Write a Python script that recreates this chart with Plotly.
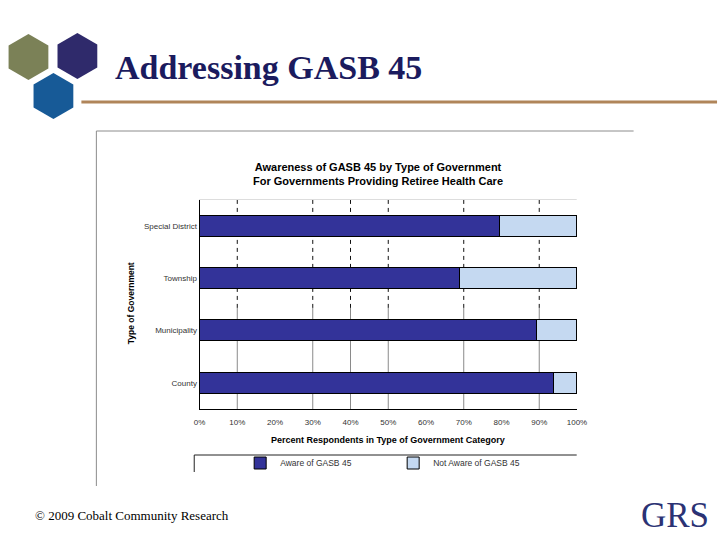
import math
import plotly.graph_objects as go

categories = ["County", "Municipality", "Township", "Special District"]
aware = [93.8, 89.4, 68.8, 79.6]
not_aware = [6.2, 10.6, 31.2, 20.4]
x_ticks = [0, 10, 20, 30, 40, 50, 60, 70, 80, 90, 100]
x_tick_labels = ["0%", "10%", "20%", "30%", "40%", "50%", "60%", "70%", "80%", "90%", "100%"]
grid_ticks = [10, 30, 40, 50, 70, 90]

W, H = 720, 540
# horizontal calibration of target pixel -> layout pixel
def hx(x):
    return (x - 5.5) / (705 / 720)
def px(x):
    return hx(x) / W
def py(y):
    return 1 - y / H

fig = go.Figure()
fig.add_trace(go.Bar(y=categories, x=aware, orientation="h", name="Aware of GASB 45",
                     marker=dict(color="#333399", line=dict(color="#000000", width=1)), width=0.4))
fig.add_trace(go.Bar(y=categories, x=not_aware, orientation="h", name="Not Aware of GASB 45",
                     marker=dict(color="#c5d9f1", line=dict(color="#000000", width=1)), width=0.4))

shapes = []
for g in grid_ticks:
    shapes.append(dict(type="line", xref="x", yref="y", x0=g, x1=g, y0=1.43, y1=3.5,
                       line=dict(color="#111111", width=1, dash="4px,4px"), layer="below"))
    shapes.append(dict(type="line", xref="x", yref="y", x0=g, x1=g, y0=-0.5, y1=1.43,
                       line=dict(color="#8a8a8a", width=1), layer="below"))
shapes.append(dict(type="line", xref="paper", yref="paper", x0=px(199), x1=px(577), y0=py(199.5), y1=py(199.5),
                   line=dict(color="#dddddd", width=1)))
shapes.append(dict(type="line", xref="paper", yref="paper", x0=px(96), x1=px(634), y0=py(131), y1=py(131),
                   line=dict(color="#8c8c8c", width=1)))
shapes.append(dict(type="line", xref="paper", yref="paper", x0=px(96), x1=px(96), y0=py(131), y1=py(486),
                   line=dict(color="#8c8c8c", width=1)))
shapes.append(dict(type="line", xref="paper", yref="paper", x0=px(194), x1=px(577), y0=py(455), y1=py(455),
                   line=dict(color="#222222", width=1)))
shapes.append(dict(type="line", xref="paper", yref="paper", x0=px(194), x1=px(194), y0=py(455), y1=py(472),
                   line=dict(color="#222222", width=1)))
shapes.append(dict(type="line", xref="paper", yref="paper", x0=px(81), x1=1.01, y0=py(102), y1=py(102),
                   line=dict(color="#b0855a", width=3)))

def hexpath(cx, cy, r):
    pts = []
    for k in range(6):
        a = math.radians(90 + 60 * k)
        pts.append((px(cx + r * math.cos(a)), py(cy - r * math.sin(a))))
    return "M " + " L ".join(f"{a:.5f},{b:.5f}" for a, b in pts) + " Z"

for cx, cy, col in [(28, 57, "#7b8157"), (77, 56, "#2f2a6b"), (53, 96, "#175a97")]:
    shapes.append(dict(type="path", xref="paper", yref="paper", path=hexpath(cx, cy, 23),
                       fillcolor=col, line=dict(width=0)))

annotations = [
    dict(text="<b>Addressing GASB 45</b>", x=px(113), y=py(67), xref="paper", yref="paper",
         xanchor="left", yanchor="middle", showarrow=False,
         font=dict(family="Liberation Serif", size=34, color="#1b1b5e")),
    dict(text="<b>Awareness of GASB 45 by Type of Government<br>For Governments Providing Retiree Health Care</b>",
         x=px(378), y=py(174), xref="paper", yref="paper", xanchor="center", yanchor="middle",
         showarrow=False, font=dict(family="Liberation Sans", size=11, color="#000000")),
    dict(text="<b>Type of Government</b>", x=px(131), y=py(303), xref="paper", yref="paper",
         xanchor="center", yanchor="middle", textangle=-90, showarrow=False,
         font=dict(family="Liberation Sans", size=8.5, color="#000000")),
    dict(text="<b>Percent Respondents in Type of Government Category</b>", x=px(388), y=py(440),
         xref="paper", yref="paper", xanchor="center", yanchor="middle", showarrow=False,
         font=dict(family="Liberation Sans", size=9, color="#000000")),
    dict(text="© 2009 Cobalt Community Research", x=px(33), y=py(515), xref="paper", yref="paper",
         xanchor="left", yanchor="middle", showarrow=False,
         font=dict(family="Liberation Serif", size=13, color="#000000")),
    dict(text="GRS", x=1.0, y=py(515), xref="paper", yref="paper",
         xanchor="right", yanchor="middle", showarrow=False, borderpad=0,
         font=dict(family="Liberation Serif", size=35, color="#2b3274")),
]

fig.update_layout(
    width=W, height=H, autosize=False, margin=dict(l=0, r=0, t=0, b=0),
    paper_bgcolor="white", plot_bgcolor="white",
    barmode="stack", showlegend=True,
    legend=dict(orientation="h", traceorder="normal", x=px(240), y=py(463), xanchor="left", yanchor="middle",
                font=dict(family="Liberation Sans", size=8.5, color="#333333"),
                entrywidth=108, itemwidth=30, bgcolor="rgba(0,0,0,0)"),
    shapes=shapes, annotations=annotations,
    xaxis=dict(domain=[px(199.3), px(577.3)], range=[0, 100], tickvals=x_ticks, ticktext=x_tick_labels,
               showgrid=False, zeroline=False, showline=True, linecolor="#000000", linewidth=1,
               ticks="", ticklabelstandoff=5,
               tickfont=dict(family="Liberation Sans", size=8, color="#333333"), fixedrange=True),
    yaxis=dict(domain=[py(409), py(199.5)], categoryorder="array", categoryarray=categories,
               range=[-0.5, 3.5], showgrid=False, zeroline=False, showline=True, linecolor="#000000",
               linewidth=1, ticks="", fixedrange=True,
               tickfont=dict(family="Liberation Sans", size=8, color="#333333")),
    font=dict(family="Liberation Sans"),
)

fig.write_html("out.html",
               config={"displayModeBar": False, "responsive": False},
               post_script="document.body.style.margin='0';document.body.style.overflow='hidden';")
